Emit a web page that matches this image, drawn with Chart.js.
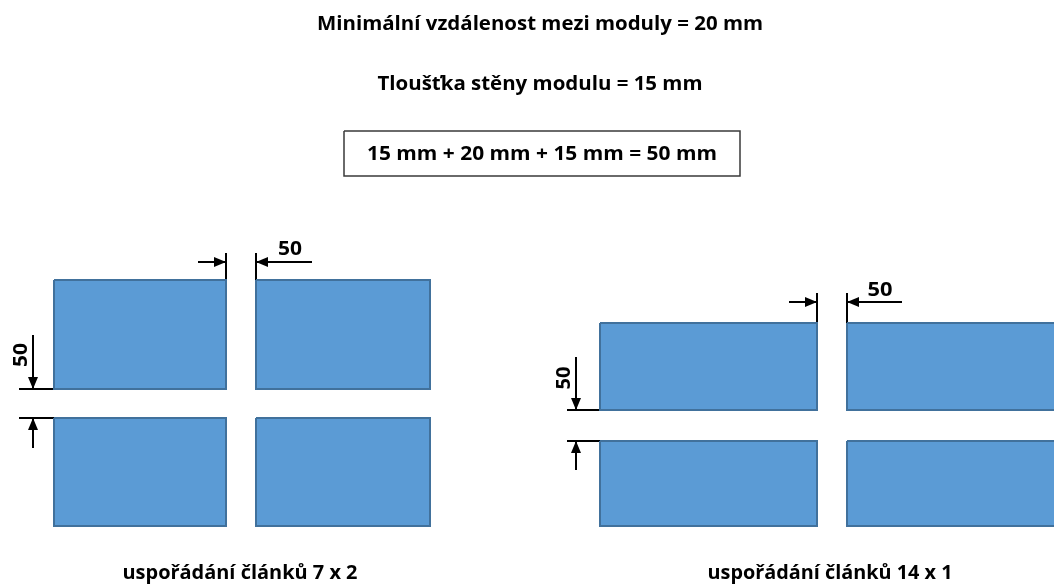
<!DOCTYPE html>
<html lang="cs">
<head>
<meta charset="utf-8">
<title>Minimální vzdálenost mezi moduly</title>
<script src="https://cdn.jsdelivr.net/npm/chart.js@4.4.1/dist/chart.umd.min.js"></script>
<style>
    html, body { margin: 0; padding: 0; background: #ffffff; }
    #wrap { width: 1054px; height: 584px; position: relative; }
</style>
</head>
<body>
<div id="wrap"><canvas id="layoutChart"></canvas></div>
<script>
// Diagram is drawn in the picture's own units (0..1054 across, 0..584 down)

// Texts
const titleLines = ["Minimální vzdálenost mezi moduly = 20 mm", "Tloušťka stěny modulu = 15 mm"];
const formulaText = "15 mm + 20 mm + 15 mm = 50 mm";
const captions = ["uspořádání článků 7 x 2", "uspořádání článků 14 x 1"];
const gapLabel = "50";

// Module outlines: [left, top, right, bottom]
const modules7x2 = [
    [54, 280, 226, 389], [256, 280, 430, 389],
    [54, 418, 226, 526], [256, 418, 430, 526]
];
const modules14x1 = [
    [600, 323, 817, 410], [847, 323, 1070, 410],
    [600, 441, 817, 526], [847, 441, 1070, 526]
];

// Dimension lines: [x1, y1, x2, y2], arrow head sits at (x2, y2)
const arrowLines = [
    [198, 262, 226, 262], [312, 262, 256, 262],
    [33, 335, 33, 389], [33, 448, 33, 418],
    [789, 302, 817, 302], [902, 302, 847, 302],
    [576, 357, 576, 410], [576, 470, 576, 441]
];
// Extension lines: [x1, y1, x2, y2]
const extensionLines = [
    [226, 253, 226, 280], [256, 253, 256, 280],
    [19, 389, 54, 389], [19, 418, 54, 418],
    [817, 293, 817, 323], [847, 293, 847, 350],
    [567, 410, 600, 410], [567, 441, 600, 441]
];
const formulaBox = [344, 131, 740, 176];

// Where the texts go (centre x, baseline y, width, font size, rotation)
const textLayout = [
    { text: titleLines[0], x: 540, y: 30, w: 446, size: 20 },
    { text: titleLines[1], x: 540, y: 90, w: 325, size: 20 },
    { text: formulaText, x: 542, y: 160, w: 350, size: 20 },
    { text: captions[0], x: 240, y: 579, w: 235, size: 20 },
    { text: captions[1], x: 830, y: 579, w: 245, size: 20 },
    { text: gapLabel, x: 290, y: 255, w: 24, size: 20 },
    { text: gapLabel, x: 880, y: 296, w: 25, size: 20 },
    { text: gapLabel, x: 27, y: 355, w: 24, size: 20, rot: -Math.PI / 2 },
    { text: gapLabel, x: 570, y: 378, w: 23, size: 20, rot: -Math.PI / 2 }
];

function rectPoints(r) {
    return [
        { x: r[0], y: r[1] }, { x: r[2], y: r[1] },
        { x: r[2], y: r[3] }, { x: r[0], y: r[3] },
        { x: r[0], y: r[1] }
    ];
}

function segPoints(s) {
    return [{ x: s[0], y: s[1] }, { x: s[2], y: s[3] }];
}

const datasets = [];

modules7x2.concat(modules14x1).forEach((r) => {
    datasets.push({
        data: rectPoints(r),
        borderColor: "#41719c",
        backgroundColor: "#5b9bd5",
        borderWidth: 2,
        borderJoinStyle: "miter",
        fill: "shape",
        pointRadius: 0,
        tension: 0,
    });
});

datasets.push({
    data: rectPoints(formulaBox),
    borderColor: "#3a3a3a",
    borderWidth: 1.5,
    borderJoinStyle: "miter",
    fill: false,
    pointRadius: 0,
});

extensionLines.forEach((s) => {
    datasets.push({
        data: segPoints(s),
        borderColor: "#000000",
        borderWidth: 2,
        fill: false,
        pointRadius: 0,
    });
});

arrowLines.forEach((s) => {
    datasets.push({
        data: segPoints(s),
        borderColor: "#000000",
        borderWidth: 2,
        fill: false,
        pointRadius: 0,
        arrow: true,
    });
});

// Arrow heads at the end of the dimension lines
const arrowHeads = {
    id: "arrowHeads",
    afterDatasetsDraw(chart) {
        const ctx = chart.ctx;
        chart.data.datasets.forEach((ds, i) => {
            if (!ds.arrow) return;
            const pts = chart.getDatasetMeta(i).data;
            const tip = pts[pts.length - 1];
            const prev = pts[pts.length - 2];
            const a = Math.atan2(tip.y - prev.y, tip.x - prev.x);
            const len = 12;
            const half = 5;
            ctx.save();
            ctx.translate(tip.x, tip.y);
            ctx.rotate(a);
            ctx.beginPath();
            ctx.moveTo(0, 0);
            ctx.lineTo(-len, -half);
            ctx.lineTo(-len, half);
            ctx.closePath();
            ctx.fillStyle = "#000000";
            ctx.fill();
            ctx.restore();
        });
    },
};

// Texts, squeezed to the widths in the picture
const diagramTexts = {
    id: "diagramTexts",
    afterDraw(chart) {
        const ctx = chart.ctx;
        const xs = chart.scales.x;
        const ys = chart.scales.y;
        textLayout.forEach((t) => {
            ctx.save();
            ctx.font = `bold ${t.size}px "Open Sans", Lato, sans-serif`;
            const m = ctx.measureText(t.text).width;
            ctx.translate(xs.getPixelForValue(t.x), ys.getPixelForValue(t.y));
            if (t.rot) ctx.rotate(t.rot);
            ctx.scale(t.w / m, 1);
            ctx.textAlign = "center";
            ctx.textBaseline = "alphabetic";
            ctx.fillStyle = "#000000";
            ctx.fillText(t.text, 0, 0);
            ctx.restore();
        });
    },
};

new Chart(document.getElementById("layoutChart"), {
    type: "line",
    data: { datasets: datasets },
    options: {
        responsive: true,
        maintainAspectRatio: false,
        animation: false,
        events: [],
        layout: { padding: 0 },
        plugins: {
            legend: { display: false },
            tooltip: { enabled: false },
        },
        scales: {
            x: { type: "linear", min: 0, max: 1054, display: false },
            y: { type: "linear", min: 0, max: 584, reverse: true, display: false },
        },
    },
    plugins: [arrowHeads, diagramTexts],
});
</script>
</body>
</html>
